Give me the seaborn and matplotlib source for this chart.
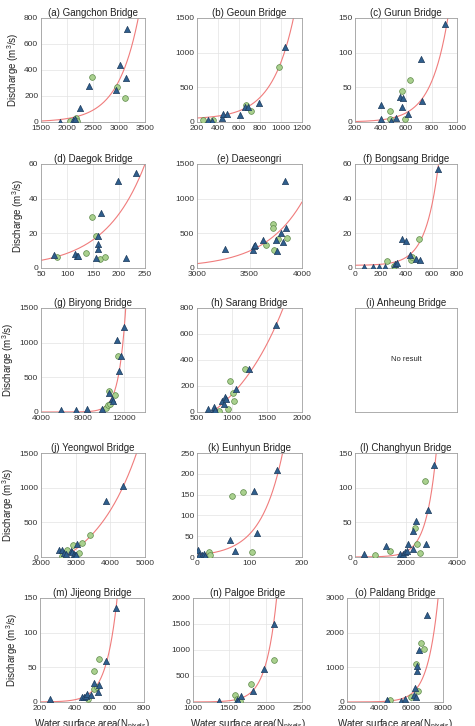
import numpy as np
import pandas as pd
import matplotlib.pyplot as plt
import seaborn as sns

# (a) Gangchon Bridge
a_tri_x = [1858, 2120, 2160, 2249, 2432, 2933, 3011, 3142, 3161]
a_tri_y = [2, 15, 20, 110, 279, 243, 437, 340, 713]
a_cir_x = [2050, 2170, 2200, 2477, 2966, 3109]
a_cir_y = [8, 30, 5, 345, 271, 182]
# (b) Geoun Bridge
b_tri_x = [307, 346, 437, 450, 482, 606, 658, 681, 786, 1038]
b_tri_y = [24, 10, 53, 120, 115, 105, 220, 220, 278, 1078]
b_cir_x = [258, 356, 664, 715, 982]
b_cir_y = [34, 29, 249, 163, 795]
# (c) Gurun Bridge
c_tri_x = [400, 400, 483, 523, 552, 571, 579, 613, 719, 724, 906]
c_tri_y = [24, 4, 1, 6, 36, 22, 34, 12, 91, 31, 142]
c_cir_x = [473, 473, 565, 589, 629]
c_cir_y = [16, 5, 45, 4, 60]
# (d) Daegok Bridge
d_tri_x = [75, 116, 120, 122, 155, 159, 159, 160, 166, 198, 213, 232]
d_tri_y = [7.5, 7.9, 7.1, 6.8, 5.8, 14, 11.2, 18.3, 32, 50, 6, 55]
d_cir_x = [80, 137, 148, 156, 164, 173]
d_cir_y = [6.4, 8.7, 29.7, 18.5, 5.4, 6.6]
# (e) Daeseongri
e_tri_x = [3263, 3533, 3543, 3556, 3629, 3756, 3762, 3800, 3816, 3835, 3851]
e_tri_y = [280, 256, 314, 338, 400, 410, 246, 511, 376, 1254, 579]
e_cir_x = [3660, 3724, 3724, 3737, 3768, 3857]
e_cir_y = [338, 632, 584, 265, 415, 439]
# (f) Bongsang Bridge
f_tri_x = [73, 139, 189, 236, 312, 333, 367, 401, 433, 478, 512, 651]
f_tri_y = [0.6, 0.6, 0.6, 0.6, 2.3, 2.7, 16.8, 15.6, 7.3, 5, 4.8, 57]
f_cir_x = [254, 302, 441, 449, 504]
f_cir_y = [4.2, 1, 4.4, 6.4, 16.6]
# (g) Biryong Bridge
g_tri_x = [5950, 7390, 8470, 9910, 10580, 10840, 10900, 11280, 11540, 11670, 12020]
g_tri_y = [24, 24, 43, 43, 274, 188, 163, 1034, 587, 803, 1226]
g_cir_x = [10260, 10420, 10550, 10650, 11120, 11440]
g_cir_y = [58, 106, 308, 120, 240, 803]
# (h) Sarang Bridge
h_tri_x = [657, 738, 743, 752, 857, 881, 905, 919, 1062, 1238, 1629]
h_tri_y = [26, 26, 36, 18, 82, 64, 113, 100, 179, 333, 667]
h_cir_x = [810, 943, 976, 1014, 1033, 1181]
h_cir_y = [5, 23, 236, 144, 87, 333]
# (j) Yeongwol Bridge
j_tri_x = [2524, 2619, 2667, 2714, 2857, 2886, 2952, 2981, 3019, 3048, 3876, 4352]
j_tri_y = [96, 106, 58, 43, 91, 67, 43, 24, 24, 192, 812, 1029]
j_cir_x = [2600, 2762, 2933, 3095, 3190, 3410]
j_cir_y = [19, 96, 168, 58, 207, 322]
# (k) Eunhyun Bridge
k_tri_x = [2, 3, 10, 13, 15, 63, 73, 109, 114, 152]
k_tri_y = [18, 6, 6, 8, 3, 42, 15, 158, 58, 210]
k_cir_x = [22, 24, 67, 88, 105]
k_cir_y = [11, 6, 146, 156, 12]
# (l) Changhyun Bridge
l_tri_x = [367, 1206, 1769, 1900, 1966, 2031, 2097, 2293, 2293, 2398, 2792, 2844, 3106]
l_tri_y = [4.3, 15.4, 4.8, 4.8, 6.7, 9.1, 18.8, 37, 12, 52, 18.8, 68, 133]
l_cir_x = [786, 1376, 2359, 2424, 2556, 2752]
l_cir_y = [3.4, 8.2, 41.8, 18.8, 5.8, 110]
# (m) Jijeong Bridge
m_tri_x = [255, 440, 454, 464, 473, 493, 512, 532, 538, 581, 636]
m_tri_y = [4.3, 6.7, 6.7, 8, 12, 10.6, 27, 14, 24, 59, 135.6]
m_cir_x = [479, 509, 512, 528, 538]
m_cir_y = [4.3, 19, 44, 21, 61.5]
# (n) Palgoe Bridge
n_tri_x = [1360, 1600, 1620, 1660, 1821, 1982, 2119]
n_tri_y = [10, 40, 20, 122, 218, 641, 1500]
n_cir_x = [1583, 1600, 1640, 1798, 2110]
n_cir_y = [141, 60, 25, 352, 814]
# (o) Paldang Bridge
o_tri_x = [4500, 5400, 5600, 6200, 6250, 6300, 6350, 6375, 6500, 7000]
o_tri_y = [50, 40, 80, 200, 404, 150, 900, 1048, 1510, 2519]
o_cir_x = [4700, 6000, 6300, 6600, 6450, 6800]
o_cir_y = [67, 135, 1096, 1702, 308, 1529]

# exponential fits  Q = a * exp(b * x) + c
fit_a = [0.1787, 6.68, 0.153, 2.29, 0.01808, 0.0867, 1.97e-5, 142.5,
         None, 48.0, 4.94, 0.0523, 0.00607, 1.01e-3, 0.025]
fit_b = [0.002494, 0.004814, 0.00742, 0.01306, 0.002718, 0.00994, 0.001494, 0.0012,
         None, 0.00077, 0.02407, 0.0025, 0.01568, 0.00674, 0.00152]
fit_c = [0, 40, 0, 0, 0, 1.5, 0, -338, None, -372, 0, 0, 0, 0, 0]

titles = ["(a) Gangchon Bridge", "(b) Geoun Bridge", "(c) Gurun Bridge",
          "(d) Daegok Bridge", "(e) Daeseongri", "(f) Bongsang Bridge",
          "(g) Biryong Bridge", "(h) Sarang Bridge", "(i) Anheung Bridge",
          "(j) Yeongwol Bridge", "(k) Eunhyun Bridge", "(l) Changhyun Bridge",
          "(m) Jijeong Bridge", "(n) Palgoe Bridge", "(o) Paldang Bridge"]
x_ticks = [[1500, 2000, 2500, 3000, 3500], [200, 400, 600, 800, 1000, 1200],
           [200, 400, 600, 800, 1000], [50, 100, 150, 200, 250],
           [3000, 3500, 4000], [0, 200, 400, 600, 800],
           [4000, 8000, 12000], [500, 1000, 1500, 2000], None,
           [2000, 3000, 4000, 5000], [0, 100, 200], [0, 2000, 4000],
           [200, 400, 600, 800], [1000, 1500, 2000, 2500], [2000, 4000, 6000, 8000]]
x_lims = [(1500, 3500), (200, 1200), (200, 1000), (50, 250), (3000, 4000), (0, 800),
          (4000, 14000), (500, 2000), None, (2000, 5000), (0, 200), (0, 4000),
          (200, 800), (1000, 2500), (2000, 8000)]
y_ticks = [[0, 200, 400, 600, 800], [0, 500, 1000, 1500], [0, 50, 100, 150],
           [0, 20, 40, 60], [0, 500, 1000, 1500], [0, 20, 40, 60],
           [0, 500, 1000, 1500], [0, 200, 400, 600, 800], None,
           [0, 500, 1000, 1500], [0, 50, 100, 150, 200, 250], [0, 50, 100, 150],
           [0, 50, 100, 150], [0, 500, 1000, 1500, 2000], [0, 1000, 2000, 3000]]

points = [(a_tri_x, a_tri_y, a_cir_x, a_cir_y), (b_tri_x, b_tri_y, b_cir_x, b_cir_y),
          (c_tri_x, c_tri_y, c_cir_x, c_cir_y), (d_tri_x, d_tri_y, d_cir_x, d_cir_y),
          (e_tri_x, e_tri_y, e_cir_x, e_cir_y), (f_tri_x, f_tri_y, f_cir_x, f_cir_y),
          (g_tri_x, g_tri_y, g_cir_x, g_cir_y), (h_tri_x, h_tri_y, h_cir_x, h_cir_y),
          None,
          (j_tri_x, j_tri_y, j_cir_x, j_cir_y), (k_tri_x, k_tri_y, k_cir_x, k_cir_y),
          (l_tri_x, l_tri_y, l_cir_x, l_cir_y), (m_tri_x, m_tri_y, m_cir_x, m_cir_y),
          (n_tri_x, n_tri_y, n_cir_x, n_cir_y), (o_tri_x, o_tri_y, o_cir_x, o_cir_y)]

sns.set_style("white")
plt.rcParams["font.family"] = ["Liberation Sans", "DejaVu Sans"]
plt.rcParams["mathtext.fontset"] = "custom"
plt.rcParams["mathtext.rm"] = "Liberation Sans"
plt.rcParams["mathtext.it"] = "Liberation Sans:italic"

W, H = 475, 726
fig = plt.figure(figsize=(W / 100, H / 100), dpi=100)
# panel boxes in pixels (left, width); the last row sits slightly differently
col_boxes = [[(41, 104), (197, 105), (355, 102)]] * 4 + [[(40, 104), (193, 109), (347, 96)]]
row_top = [18, 164, 308, 453, 598]
ax_h = 104

tri_color = "#2f5f8e"
cir_color = "#a9d08e"
line_color = "#f07c7c"

for i in range(15):
    r, c = divmod(i, 3)
    left, width = col_boxes[r][c]
    ax = fig.add_axes([left / W, 1 - (row_top[r] + ax_h) / H, width / W, ax_h / H])
    ax.set_title(titles[i], fontsize=7, pad=1.5, color="#222222")
    for s in ax.spines.values():
        s.set_color("#a0a0a0")
        s.set_linewidth(0.6)
    if points[i] is None:
        ax.set_xticks([])
        ax.set_yticks([])
        ax.text(0.5, 0.5, "No result", fontsize=5.5, ha="center", va="center",
                transform=ax.transAxes)
        continue
    tx, ty, cx, cy = points[i]
    x0, x1 = x_lims[i]
    xs = np.linspace(x0, x1, 400)
    ys = fit_a[i] * np.exp(fit_b[i] * xs) + fit_c[i]
    sns.lineplot(x=xs, y=ys, ax=ax, color=line_color, linewidth=0.8, zorder=2)
    sns.scatterplot(x=cx, y=cy, ax=ax, marker="o", s=17, color=cir_color,
                    edgecolor="#5e8a4a", linewidth=0.5, zorder=3)
    sns.scatterplot(x=tx, y=ty, ax=ax, marker="^", s=20, color=tri_color,
                    edgecolor="#1d3b5c", linewidth=0.5, zorder=4)
    ax.set_xlim(x0, x1)
    ax.set_ylim(y_ticks[i][0], y_ticks[i][-1])
    ax.set_xticks(x_ticks[i])
    ax.set_yticks(y_ticks[i])
    ax.grid(True, color="#e3e3e3", linewidth=0.5)
    ax.tick_params(labelsize=6, length=2, direction="in", pad=2,
                   colors="#333333", width=0.5)
    ax.set_xlabel("")
    ax.set_ylabel("")
    if c == 0:
        ax.set_ylabel("Discharge (m$^3$/s)", fontsize=7, labelpad=2, color="#222222")
    if r == 4:
        ax.set_xlabel("Water surface area(N$_{\\mathrm{pixels}}$)", fontsize=7,
                      labelpad=4.5, color="#222222")

fig.savefig("out.png", dpi=100)
